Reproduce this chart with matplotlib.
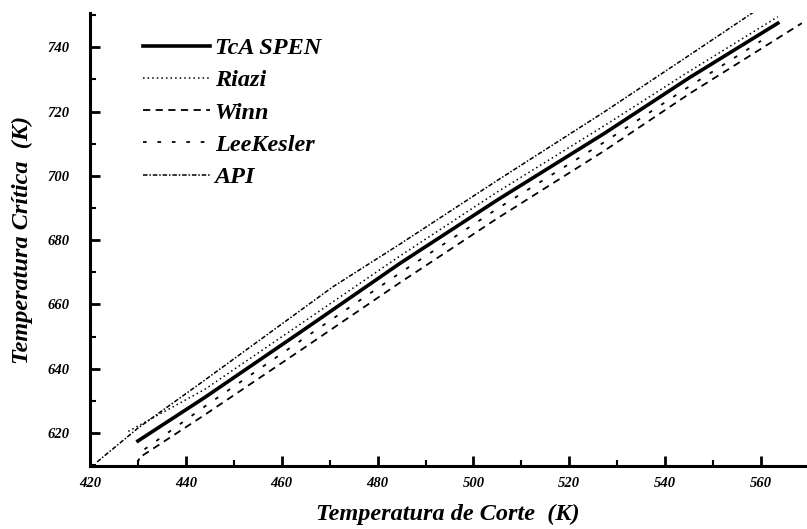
import numpy as np
import matplotlib
matplotlib.use("Agg")
import matplotlib.pyplot as plt
from matplotlib.ticker import MultipleLocator

#%% Data
x_aspen = [430, 444, 465, 484.6, 505, 527.3, 545, 563.5]
y_aspen = [617.5, 631.1, 652.5, 672.7, 692.5, 713.2, 730.5, 747.5]

x_riazi = [428, 444, 465, 484.6, 505, 527.3, 545, 563.5]
y_riazi = [620.5, 633.6, 655.0, 675.0, 695.0, 715.6, 732.5, 749.5]

x_winn = [431, 444, 465, 484.6, 505, 527.3, 545, 568.5]
y_winn = [613.0, 625.7, 646.8, 666.7, 686.8, 707.8, 725.5, 747.5]

x_lee = [430, 431, 444, 465, 484.6, 505, 527.3, 545, 560]
y_lee = [611.0, 614.5, 628.3, 649.8, 669.7, 689.8, 710.5, 727.8, 742.0]

x_api = [421.5, 430, 444, 470.6, 484.6, 505, 527.3, 545, 558.5]
y_api = [611.0, 621.5, 636.5, 665.4, 678.7, 698.6, 719.9, 737.5, 751.0]

labels = ["TcA SPEN", "Riazi", "Winn", "LeeKesler", "API"]

#%% Plotting
plt.rcParams["font.family"] = "Liberation Serif"
fig = plt.figure(figsize=(8.07, 5.29), dpi=100)
ax = fig.add_axes([0.1115, 0.119, 0.888, 0.856])

ax.plot(x_aspen, y_aspen, color="black", lw=2.6, ls="-", label=labels[0])
ax.plot(x_riazi, y_riazi, color="black", lw=1.1, ls=(0, (1, 2)), label=labels[1])
ax.plot(x_winn, y_winn, color="black", lw=1.3, ls=(0, (4, 3)), label=labels[2])
ax.plot(x_lee, y_lee, color="black", lw=1.3, ls=(0, (2, 6)), label=labels[3])
ax.plot(x_api, y_api, color="black", lw=1.1, ls=(0, (3, 1.2, 1, 1.2)), label=labels[4])

ax.set_xlim(420, 569.5)
ax.set_ylim(609.7, 750.6)
ax.spines["top"].set_visible(False)
ax.spines["right"].set_visible(False)
ax.spines["left"].set_linewidth(2.2)
ax.spines["bottom"].set_linewidth(2.2)
ax.xaxis.set_major_locator(MultipleLocator(20))
ax.xaxis.set_minor_locator(MultipleLocator(10))
ax.yaxis.set_major_locator(MultipleLocator(20))
ax.yaxis.set_minor_locator(MultipleLocator(10))
ax.tick_params(which="major", direction="in", length=7, width=2)
ax.tick_params(which="minor", direction="in", length=4, width=1.5)
ax.tick_params(axis="x", pad=8)
ax.tick_params(axis="y", pad=15)
for lab in ax.get_xticklabels() + ax.get_yticklabels():
    lab.set_fontstyle("italic")
    lab.set_fontweight("bold")
    lab.set_fontsize(10.5)

ax.set_xlabel("Temperatura de Corte  (K)", fontsize=17.5, style="italic",
              fontweight="bold", labelpad=10)
ax.set_ylabel("Temperatura Crítica  (K)", fontsize=17.5, style="italic",
              fontweight="bold", labelpad=10)

leg = ax.legend(loc="upper left", bbox_to_anchor=(0.074, 0.947), frameon=False,
                borderpad=0, borderaxespad=0, handlelength=2.75, handletextpad=0.2,
                labelspacing=0.42,
                prop={"family": "Liberation Serif", "style": "italic",
                      "weight": "bold", "size": 17.5})

plt.savefig("out.png", dpi=100)
